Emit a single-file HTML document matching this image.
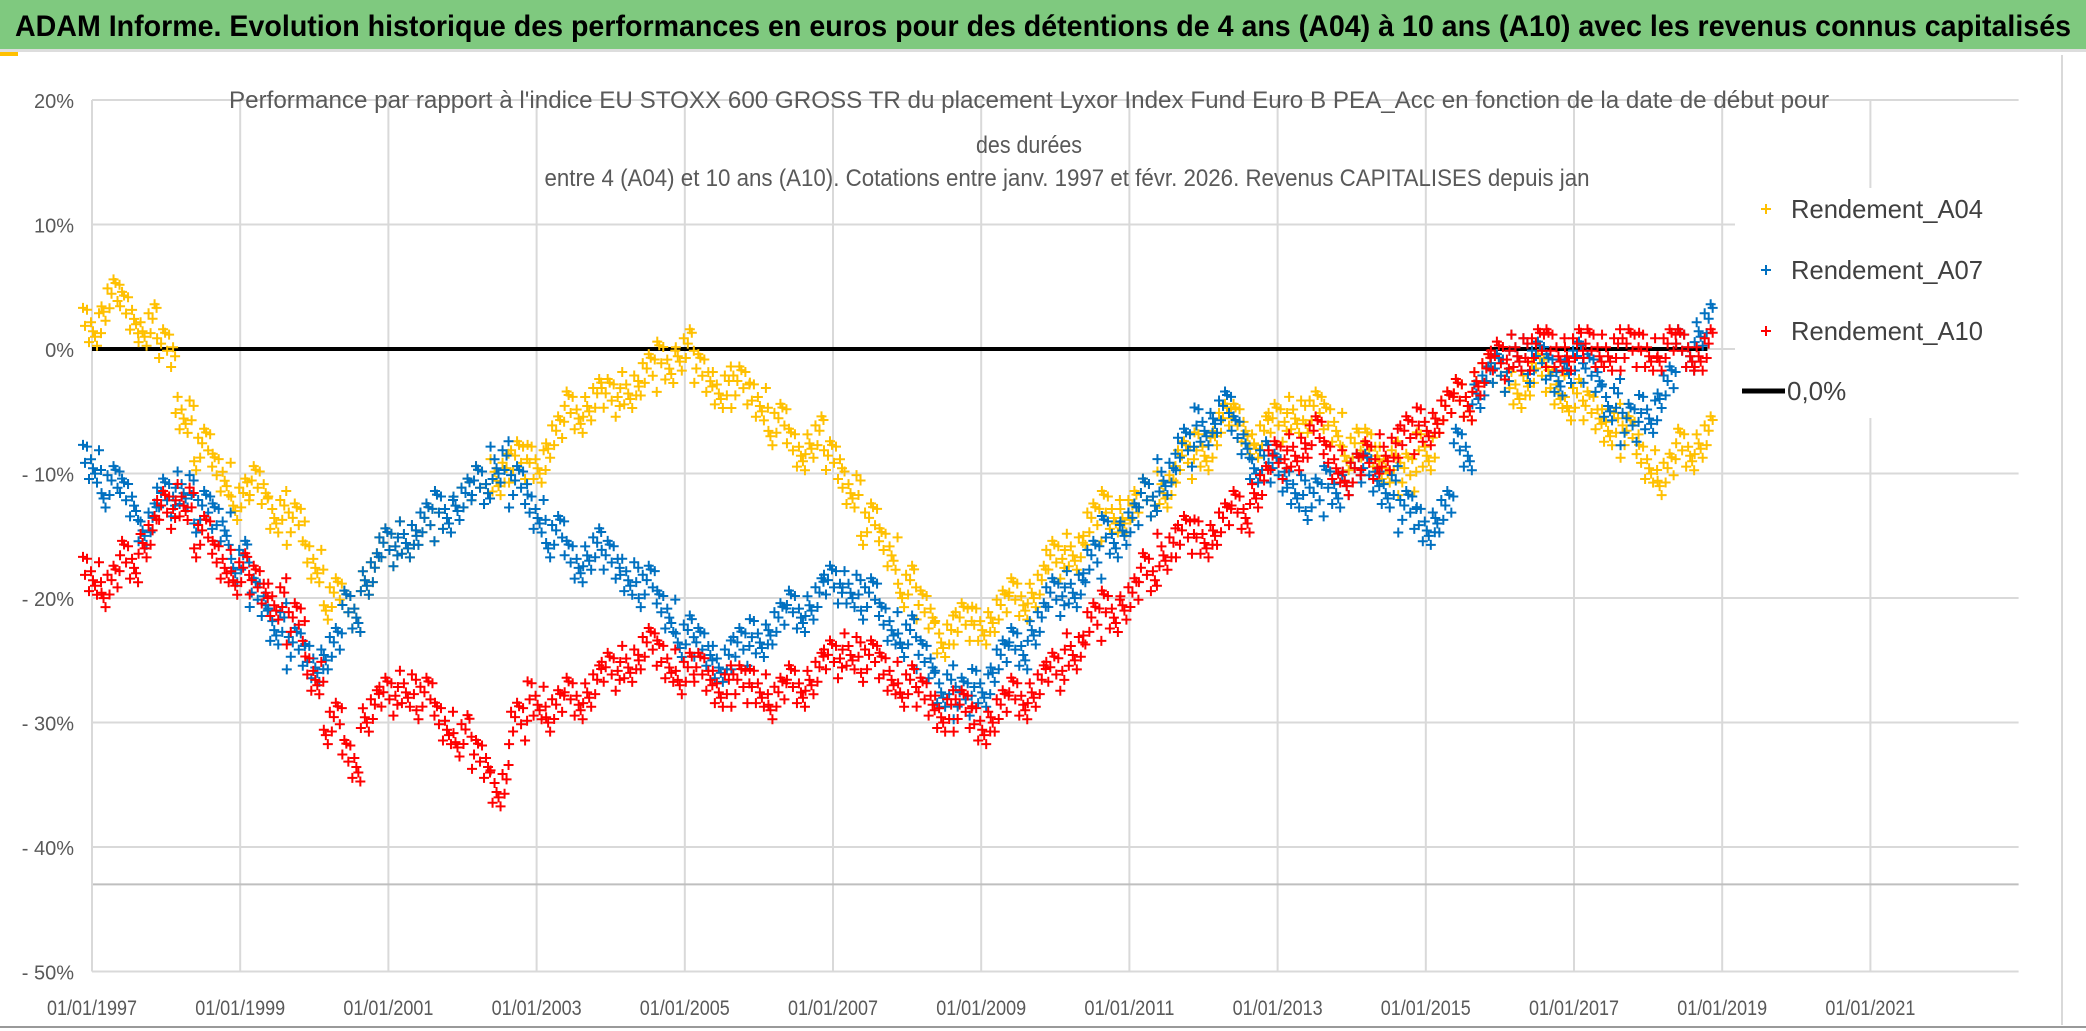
<!DOCTYPE html>
<html><head><meta charset="utf-8"><style>
html,body{margin:0;padding:0;background:#fff;}
body{width:2086px;height:1031px;overflow:hidden;position:relative;font-family:"Liberation Sans",sans-serif;}
#bar{position:absolute;left:0;top:0;width:2086px;height:49px;background:#7fc97f;border-bottom:3px solid #ddd;}
</style></head><body>
<div id="bar"></div>
<svg id="chart" width="2086" height="1031" style="position:absolute;left:0;top:0">
<text x="1043" y="36" text-anchor="middle" font-size="30" font-weight="bold" fill="#000" textLength="2056" lengthAdjust="spacingAndGlyphs">ADAM Informe. Evolution historique des performances en euros pour des détentions de 4 ans (A04) à 10 ans (A10) avec les revenus connus capitalisés</text>
<rect x="0" y="52" width="18" height="4" fill="#FFC000"/>
<line x1="2062" y1="55" x2="2062" y2="1025" stroke="#d9d9d9" stroke-width="2"/>
<line x1="0" y1="1027" x2="2086" y2="1027" stroke="#999" stroke-width="2"/>
<g id="grid"></g>
<g id="pts"></g>
<g id="titles">
<text x="1029" y="108" text-anchor="middle" font-size="24" fill="#595959" textLength="1600" lengthAdjust="spacingAndGlyphs">Performance par rapport à l'indice EU STOXX 600 GROSS TR  du placement Lyxor Index Fund Euro B PEA_Acc en fonction de la date de début pour</text>
<text x="1029" y="153" text-anchor="middle" font-size="24" fill="#595959" textLength="106" lengthAdjust="spacingAndGlyphs">des durées</text>
<text x="1067" y="186" text-anchor="middle" font-size="24" fill="#595959" textLength="1045" lengthAdjust="spacingAndGlyphs">entre 4 (A04) et 10 ans (A10). Cotations entre janv. 1997 et févr. 2026. Revenus CAPITALISES depuis jan</text>
</g>
<g id="legend"></g>
</svg>
<script>
const years=[1997,1999,2001,2003,2005,2007,2009,2011,2013,2015,2017,2019,2021];
const yTicks=[20,10,0,-10,-20,-30,-40,-50];
const yTickLabels=["20%","10%","0%","- 10%","- 20%","- 30%","- 40%","- 50%"];
const startYear=1997;
const a04=[2,4,3,2, 0,-5,-8,-10, -12,-11,-13,-14, -17,-20,-21,-18, -16,-15,-14,-13, -12,-11,-10,-9, -9,-7,-5,-4, -4,-3,-2,-1, 0,-2,-3,-3, -4,-6,-8,-7, -9,-11,-14,-16, -19,-21,-23,-22, -22,-21,-20,-19, -17,-16,-14,-13, -13,-12,-11,-9, -8,-6,-6,-7, -6,-5,-5,-6, -8,-8,-9,-10, -8,-5,-4,-2, -2,-3,-2,-3, -4,-5,-6,-7, -9,-10,-8,-7];
const a07=[-9,-11,-12,-14, -12,-11,-13,-14, -17,-20,-22,-24, -25,-24,-21,-18, -16,-15,-14,-13, -12,-11,-9,-11, -13,-15,-17,-16, -17,-18,-19,-21, -23,-24,-25,-24, -23,-22,-21,-20, -19,-19,-20,-22, -23,-25,-27,-28, -27,-25,-24,-22, -20,-19,-17,-15, -14,-12,-10,-8, -6,-5,-7,-9, -10,-11,-12,-11, -10,-10,-11,-13, -14,-13,-8,-3, -2,0,-1,-2, -1,-2,-4,-6, -5,-3,0,2];
const a10=[-18,-19,-17,-15, -13,-12,-15,-17, -18,-19,-20,-22, -26,-30,-33,-29, -28,-27,-28,-30, -31,-33,-35,-30, -28,-29,-28,-27, -26,-25,-24,-25, -26,-26,-27,-27, -27,-28,-27,-26, -25,-24,-25,-26, -27,-28,-29,-29, -30,-29,-28,-27, -26,-24,-22,-21, -20,-18,-16,-15, -15,-14,-13,-11, -9,-8,-7,-9, -10,-9,-8,-7, -6,-5,-4,-2, -1,0,0,0, 0,0,0,0, 0,0,0,0];
const ns="http://www.w3.org/2000/svg";
const X0=92,PX_YEAR=74.1,Y20=100,PX_PCT=12.45;
function xs(yr){return X0+(yr-startYear)*PX_YEAR;}
function ys(v){return Y20+(20-v)*PX_PCT;}
function mk(tag,attrs,parent){const e=document.createElementNS(ns,tag);for(const k in attrs)e.setAttribute(k,attrs[k]);parent.appendChild(e);return e;}
const grid=document.getElementById('grid');
years.forEach(y=>{
  const l=mk('line',{x1:xs(y),x2:xs(y),y1:ys(20),y2:ys(-50),stroke:'#d9d9d9','stroke-width':2},grid);
  
  
  const t=mk('text',{x:xs(y),y:1015,'text-anchor':'middle','font-size':21,fill:'#595959',textLength:90,lengthAdjust:'spacingAndGlyphs'},grid);
  t.textContent='01/01/'+y;
  
  
});
yTicks.forEach((v,i)=>{
  const l=mk('line',{x1:X0,x2:xs(2023),y1:ys(v),y2:ys(v),stroke:'#d9d9d9','stroke-width':2},grid);
  
  
  const t=mk('text',{x:74,y:ys(v)+8,'text-anchor':'end','font-size':20,fill:'#595959'},grid);
  t.textContent=yTickLabels[i];
  
  
});
const extra=mk('line',{x1:X0,x2:xs(2023),y1:ys(-43),y2:ys(-43),stroke:'#bfbfbf','stroke-width':2},grid);


const ax=mk('line',{x1:X0,x2:X0,y1:ys(20),y2:ys(-50),stroke:'#d9d9d9','stroke-width':2},grid);


const pts=document.getElementById('pts');
const zl=mk('line',{x1:xs(1997),x2:xs(2018.8),y1:ys(0),y2:ys(0),stroke:'#000','stroke-width':4},pts);


const dxs=[-9,-7,-5,-3,-1,1,3,5,7,9];
const dys=[-18,8,-6,20,-12,2,14,-22,-2,10,-16,24];
function cross(g,x,y,c){mk('path',{d:`M${x-5},${y}h10M${x},${y-5}v10`,stroke:c,'stroke-width':2},g);}
function series(data,color,name){
  const g=mk('g',{},pts);
  
  
  data.forEach((v,i)=>{
    const x=xs(startYear+i*0.25), y=ys(v);
    dxs.forEach((dx,j)=>cross(g,x+dx,y+dys[(j*5+i)%12]*0.9,color));
  });
}
series(a04,'#FFC000','series-a04');
series(a07,'#0070C0','series-a07');
series(a10,'#FF0000','series-a10');
const stray=mk('path',{d:`M${2013},${ys(0)}h10M${2018},${ys(0)-5}v10`,stroke:'#FF0000','stroke-width':2},pts);


const lg=document.getElementById('legend');
const bg=mk('rect',{x:1735,y:188,width:320,height:230,fill:'#fff'},lg);


const entries=[['Rendement_A04','#FFC000'],['Rendement_A07','#0070C0'],['Rendement_A10','#FF0000']];
entries.forEach((e,i)=>{
  const y=209+i*61;
  const g=mk('g',{},lg);
  
  
  cross(g,1766,y,e[1]);
  const t=mk('text',{x:1791,y:y+9,'font-size':26,fill:'#404040',textLength:192,lengthAdjust:'spacingAndGlyphs'},g);
  t.textContent=e[0];
});
const g0=mk('g',{},lg);


mk('line',{x1:1742,x2:1785,y1:391,y2:391,stroke:'#000','stroke-width':5},g0);
const t0=mk('text',{x:1787,y:400,'font-size':26,fill:'#404040'},g0);
t0.textContent='0,0%';
</script>
</body></html>
